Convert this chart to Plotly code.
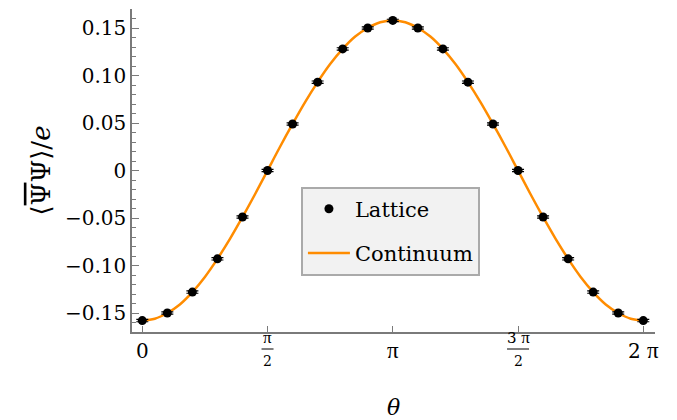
import numpy as np
import plotly.graph_objects as go

# lattice results (step pi/10) and continuum curve (step pi/20)
lattice_vals = [-0.158, -0.150, -0.128, -0.093, -0.049, 0.000, 0.049, 0.093, 0.128, 0.150, 0.158,
                0.150, 0.128, 0.093, 0.049, 0.000, -0.049, -0.093, -0.128, -0.150, -0.158]
lattice_err = [0.0012] * 21
continuum_vals = [-0.158, -0.156, -0.150, -0.141, -0.128, -0.112, -0.093, -0.072, -0.049, -0.025, 0.000,
                  0.025, 0.049, 0.072, 0.093, 0.112, 0.128, 0.141, 0.150, 0.156, 0.158,
                  0.156, 0.150, 0.141, 0.128, 0.112, 0.093, 0.072, 0.049, 0.025, 0.000,
                  -0.025, -0.049, -0.072, -0.093, -0.112, -0.128, -0.141, -0.150, -0.156, -0.158]
theta_lattice = np.arange(len(lattice_vals)) * np.pi / 10
theta_cont = np.arange(len(continuum_vals)) * np.pi / 20

PI = "<span style='font-family:Liberation Serif;font-size:23px'>π</span>"
PI_SMALL = "<span style='font-family:Liberation Serif;font-size:17px'>π</span>"
x_tickvals = [0, np.pi / 2, np.pi, 3 * np.pi / 2, 2 * np.pi]
x_ticktext = ["0", "", PI, "", "2 " + PI]
# fraction tick labels: (value, numerator, denominator)
x_fractions = [(np.pi / 2, PI_SMALL, "2", 6), (3 * np.pi / 2, "3 " + PI_SMALL, "2", 11)]
y_tickvals = [-0.15, -0.10, -0.05, 0, 0.05, 0.10, 0.15]
y_ticktext = ["−0.15", "−0.10", "−0.05", "0", "0.05", "0.10", "0.15"]

FONT = "DejaVu Serif"
ORANGE = "#FF8C00"
AXIS = "#7a7a7a"

fig = go.Figure()

fig.add_trace(go.Scatter(
    x=theta_cont, y=continuum_vals, mode="lines", name="Continuum",
    line=dict(color=ORANGE, width=2.5, shape="spline"),
    legendgroup="b", legendrank=2,
))
fig.add_trace(go.Scatter(
    x=theta_lattice, y=lattice_vals, mode="markers", name="Lattice",
    marker=dict(color="black", size=9),
    error_y=dict(type="data", array=lattice_err, color="black", thickness=1.2, width=6),
    legendgroup="a", legendrank=1,
))

for val, num, den, half in x_fractions:
    fig.add_annotation(x=val, y=0, xref="x", yref="paper", text=num, showarrow=False,
                       yanchor="middle", yshift=-5, font=dict(family=FONT, size=15, color="black"))
    fig.add_annotation(x=val, y=0, xref="x", yref="paper", text=den, showarrow=False,
                       yanchor="middle", yshift=-29, font=dict(family=FONT, size=14, color="black"))
    fig.add_shape(type="line", xref="x", yref="paper", xsizemode="pixel", ysizemode="pixel",
                  xanchor=val, yanchor=0, x0=-half, x1=half, y0=-17, y1=-17,
                  line=dict(color="black", width=1))

fig.update_layout(
    width=677, height=420,
    margin=dict(l=132, r=22, t=9, b=88),
    paper_bgcolor="white", plot_bgcolor="white",
    font=dict(family=FONT, color="black"),
    legend=dict(x=0.323, y=0.45, xanchor="left", yanchor="top",
                bgcolor="#F2F2F2", bordercolor="#AAAAAA", borderwidth=2,
                font=dict(family=FONT, size=21), tracegroupgap=14, itemwidth=42),
    xaxis=dict(
        range=[-0.129, 6.43], showgrid=False, zeroline=False, automargin=False,
        showline=True, linecolor=AXIS, linewidth=1.5,
        ticks="inside", ticklen=6, tickcolor=AXIS, tickwidth=1,
        tickvals=x_tickvals, ticktext=x_ticktext,
        tickfont=dict(family=FONT, size=20, color="black"),
        title=dict(text="<i>θ</i>", font=dict(family=FONT, size=22), standoff=38),
    ),
    yaxis=dict(
        range=[-0.17, 0.17], showgrid=False, zeroline=False, automargin=False,
        showline=True, linecolor=AXIS, linewidth=1.5,
        ticks="inside", ticklen=7, tickcolor=AXIS, tickwidth=1,
        tickvals=y_tickvals, ticktext=y_ticktext,
        tickfont=dict(family=FONT, size=20, color="black"),
        minor=dict(dtick=0.01, tick0=0, ticks="inside", ticklen=4, tickcolor=AXIS),
        title=dict(text="⟨<span style='text-decoration:overline'>Ψ</span>Ψ⟩/<i>e</i>",
                   font=dict(family=FONT, size=26), standoff=7),
    ),
)

fig.write_html("out.html", config={"displayModeBar": False},
               post_script="document.body.style.margin='0';")
